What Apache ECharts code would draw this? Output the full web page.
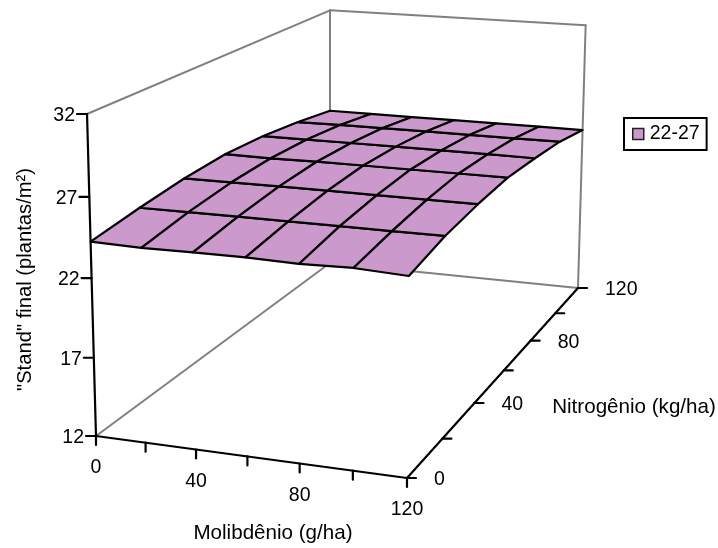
<!DOCTYPE html>
<html><head><meta charset="utf-8">
<style>html,body{margin:0;padding:0;background:#fff}#c{width:718px;height:548px}</style>
<script src="https://cdn.jsdelivr.net/npm/echarts@6/dist/echarts.min.js"></script>
</head><body><div id="c"></div>
<script>
var molibdenio = [0, 20, 40, 60, 80, 100, 120];
var nitrogenio = [0, 20, 40, 60, 80, 100, 120];
var moLabels = [0, 40, 80, 120];
var nLabels = [0, 40, 80, 120];
var zLabels = [12, 17, 22, 27, 32];
var standN0   = [24.25, 24.18, 24.23, 24.25, 24.18, 24.27, 24.13];
var standN20  = [24.69, 24.70, 24.72, 24.72, 24.72, 24.72, 24.73];
var standN40  = [25.03, 25.04, 25.05, 25.05, 25.05, 25.04, 25.04];
var standN60  = [25.18, 25.15, 25.18, 25.19, 25.19, 25.19, 25.19];
var standN80  = [25.02, 25.02, 25.03, 25.03, 25.03, 25.02, 25.00];
var standN100 = [24.67, 24.70, 24.71, 24.71, 24.71, 24.71, 24.72];
var standN120 = [24.19, 24.18, 24.18, 24.18, 24.18, 24.18, 24.17];
var stand = [standN0, standN20, standN40, standN60, standN80, standN100, standN120];
var seriesName = '22-27';

// perspective camera of the 3-D box
var CAM = {a:290.08,b:329.52,c:96,d:17.44,e:-96.87,f:436,g:-0.05139,h:0.28946,p:-12.2,q:-326.2,r:-0.037};
function project(mo, n, z) {
  var u = mo / 120, v = n / 120, w = (z - 12) / 20;
  var den = CAM.g*u + CAM.h*v + 1 + CAM.r*w;
  return [(CAM.a*u + CAM.b*v + CAM.c + CAM.p*w)/den, (CAM.d*u + CAM.e*v + CAM.f + CAM.q*w)/den];
}
var FONT = '"Liberation Sans", Arial, sans-serif', FS = 19.5, FT = 20.6;
function line(api, a, b, color, w) {
  var p = api.coord(a), q = api.coord(b);
  return {type:'line', shape:{x1:p[0],y1:p[1],x2:q[0],y2:q[1]}, style:{stroke:color,lineWidth:w,lineCap:'round'}};
}
function txt(x, y, s, align, rot, fs) {
  return {type:'text', x:x, y:y, rotation:rot||0, style:{text:s, font:(fs||FS)+'px '+FONT, fill:'#000', align:align||'center', verticalAlign:'middle'}};
}
function renderWalls(params, api) {
  var G='#808080', W=2, ch=[];
  var A=project(0,0,12),C=project(120,120,12),D=project(0,120,12),E=project(0,0,32),H=project(0,120,32),K=project(120,120,32);
  ch.push(line(api,A,D,G,W),line(api,D,C,G,W),line(api,D,H,G,W),line(api,E,H,G,W),line(api,H,K,G,W),line(api,K,C,G,W));
  return {type:'group',children:ch};
}
function renderCell(params, api) {
  var i=api.value(0), j=api.value(1);
  var pts=[[i,j],[i+1,j],[i+1,j+1],[i,j+1]].map(function(c){
    return api.coord(project(molibdenio[c[0]],nitrogenio[c[1]],stand[c[1]][c[0]]));
  });
  return {type:'polygon',shape:{points:pts},style:{fill:'#CC99CC',stroke:'#000',lineWidth:2.2,lineJoin:'round'}};
}
function renderAxes(params, api) {
  var K='#000', W=2.2, ch=[];
  var A=project(0,0,12),B=project(120,0,12),C=project(120,120,12),E=project(0,0,32);
  ch.push(line(api,E,A,K,W),line(api,A,B,K,W),line(api,B,C,K,W));
  zLabels.forEach(function(z){
    var p=project(0,0,z);
    ch.push(line(api,p,[p[0]-10,p[1]],K,W));
    ch.push(txt(p[0]-12,p[1]+2,String(z),'right'));
  });
  molibdenio.forEach(function(m){
    var p=project(m,0,12);
    ch.push(line(api,p,[p[0],p[1]+9],K,W));
    if(moLabels.indexOf(m)>=0) ch.push(txt(p[0],p[1]+32,String(m),'center'));
  });
  nitrogenio.forEach(function(n){
    var p=project(120,n,12);
    ch.push(line(api,p,[p[0]+9,p[1]],K,W));
    if(nLabels.indexOf(n)>=0) ch.push(txt(p[0]+27,p[1]+2,String(n),'left'));
  });
  ch.push(txt(273,533,'Molibdênio (g/ha)','center',0,FT));
  ch.push(txt(634,407.5,'Nitrogênio (kg/ha)','center',0,FT));
  ch.push(txt(25,279.5,'"Stand" final (plantas/m²)','center',Math.PI/2,20.2));
  return {type:'group',children:ch};
}
var cells=[];
for(var j=0;j<nitrogenio.length-1;j++)for(var i=0;i<molibdenio.length-1;i++)cells.push([i,j]);
var chart=echarts.init(document.getElementById('c'),null,{renderer:'canvas'});
chart.setOption({
  animation:false,
  backgroundColor:'#fff',
  grid:{left:0,right:0,top:0,bottom:0},
  xAxis:{type:'value',min:0,max:718,show:false},
  yAxis:{type:'value',min:0,max:548,inverse:true,show:false},
  legend:{left:624,top:118,orient:'vertical',data:[{name:seriesName,icon:'rect',itemStyle:{color:'#CC99CC',borderColor:'#222',borderWidth:1.5}}],
    itemWidth:11,itemHeight:11,padding:[6,7,6,8],borderColor:'#000',borderWidth:2,borderRadius:0,selectedMode:false,
    textStyle:{fontFamily:'Liberation Sans',fontSize:19.5,color:'#000',padding:[0,0,0,1]}},
  series:[
    {type:'custom',name:'paredes',silent:true,renderItem:renderWalls,data:[[0]],z:1,clip:false},
    {type:'custom',name:seriesName,silent:true,renderItem:renderCell,data:cells,z:2,clip:false,itemStyle:{color:'#CC99CC'}},
    {type:'custom',name:'eixos',silent:true,renderItem:renderAxes,data:[[0]],z:3,clip:false}
  ]
});
</script></body></html>
